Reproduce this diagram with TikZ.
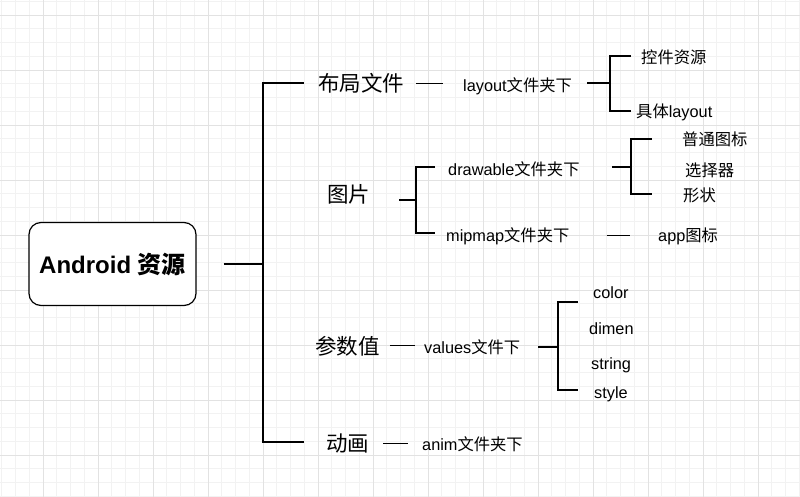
\documentclass[tikz,border=0pt]{standalone}
\usepackage{fontspec}
\setmainfont{Liberation Sans}
\newfontfamily\cjk{Noto Sans CJK SC}
\newcommand{\zh}[1]{{\cjk #1}}
\definecolor{gridminor}{HTML}{F2F2F2}
\definecolor{gridmajor}{HTML}{E2E2E2}

\begin{document}
\begin{tikzpicture}[x=1pt,y=-1pt,
    bline/.style={line width=2pt},
    tline/.style={line width=0.9pt},
    big/.style={anchor=base west,inner sep=0pt,font=\fontsize{21.5}{24}\selectfont},
    small/.style={anchor=base west,inner sep=0pt,font=\fontsize{16.3}{18}\selectfont},
    rootbox/.style={draw,line width=1.2pt,rounded corners=12pt,fill=white,
      minimum width=167pt,minimum height=83pt,inner sep=0pt,
      font=\fontsize{24}{28}\selectfont\bfseries}]
  % background grid
  \useasboundingbox (0,0) rectangle (800,497);
  \fill[white] (0,0) rectangle (800,497);
  \foreach \i in {0,...,58}
    \draw[gridminor,line width=0.8pt] ({1.75+13.75*\i},0) -- ++(0,497);
  \foreach \i in {0,...,36}
    \draw[gridminor,line width=0.8pt] (0,{1.25+13.75*\i}) -- ++(800,0);
  \foreach \i in {0,...,13}
    \draw[gridmajor,line width=0.8pt] ({43+55*\i},0) -- ++(0,497);
  \foreach \i in {0,...,8}
    \draw[gridmajor,line width=0.8pt] (0,{15+55*\i}) -- ++(800,0);

  % root
  \node[rootbox] (root) at (112.5,264) {Android \zh{资源}};

  % first level
  \node[big] (buju) at (318,92) {\zh{布局文件}};
  \node[big] (tupian) at (327,203) {\zh{图片}};
  \node[big] (canshu) at (315,354) {\zh{参数值}};
  \node[big] (donghua) at (326,451) {\zh{动画}};

  % second level
  \node[small] (layout) at (463,92) {layout\zh{文件夹下}};
  \node[small] (drawable) at (448,176) {drawable\zh{文件夹下}};
  \node[small] (mipmap) at (446,241) {mipmap\zh{文件夹下}};
  \node[small] (values) at (424,353) {values\zh{文件下}};
  \node[small] (anim) at (422,450) {anim\zh{文件夹下}};

  % third level
  \node[small] (kongjian) at (641,64) {\zh{控件资源}};
  \node[small] (juti) at (636,118) {\zh{具体}layout};
  \node[small] (putong) at (682,146) {\zh{普通图标}};
  \node[small] (xuanze) at (685,177) {\zh{选择器}};
  \node[small] (xingzhuang) at (683,201) {\zh{形状}};
  \node[small] (app) at (658,241) {app\zh{图标}};
  \node[small] (vcolor) at (593,298) {color};
  \node[small] (vdimen) at (589,334) {dimen};
  \node[small] (vstring) at (591,369) {string};
  \node[small] (vstyle) at (594,398) {style};

  % junctions and bracket ends
  \coordinate (trunk) at (263,264);
  \coordinate (ttop) at (304,83);
  \coordinate (tbot) at (304,442);
  \coordinate (jlay) at (610,83);
  \coordinate (jlay1) at (631,56);
  \coordinate (jlay2) at (631,111);
  \coordinate (jpic) at (416,200);
  \coordinate (jpic1) at (435,167);
  \coordinate (jpic2) at (435,233);
  \coordinate (jdraw) at (631,167);
  \coordinate (jdraw1) at (652,139);
  \coordinate (jdraw2) at (652,194);
  \coordinate (jval) at (558,347);
  \coordinate (jval1) at (578,302);
  \coordinate (jval2) at (578,390);

  % brackets
  \draw[bline,shorten <=27pt] (root.east) -- (trunk);
  \draw[bline] (ttop) -| (trunk) |- (tbot);
  \draw[bline,shorten >=15pt] (jlay) -- (jlay -| layout.east);
  \draw[bline] (jlay1) -| (jlay) |- (jlay2);
  \draw[bline,shorten >=29pt] (jpic) -- (jpic -| tupian.east);
  \draw[bline] (jpic1) -| (jpic) |- (jpic2);
  \draw[bline,shorten >=32pt] (jdraw) -- (jdraw -| drawable.east);
  \draw[bline] (jdraw1) -| (jdraw) |- (jdraw2);
  \draw[bline,shorten >=18pt] (jval) -- (jval -| values.east);
  \draw[bline] (jval1) -| (jval) |- (jval2);

  % thin links
  \draw[tline,shorten <=12pt,shorten >=20pt] (buju.east) -- (buju.east -| layout.west);
  \draw[tline,shorten <=37pt,shorten >=28pt] (mipmap.east) -- (mipmap.east -| app.west);
  \draw[tline,shorten <=10pt,shorten >=9pt] (canshu.east) -- (canshu.east -| values.west);
  \draw[tline,shorten <=14pt,shorten >=14pt] (donghua.east) -- (donghua.east -| anim.west);
\end{tikzpicture}
\end{document}
